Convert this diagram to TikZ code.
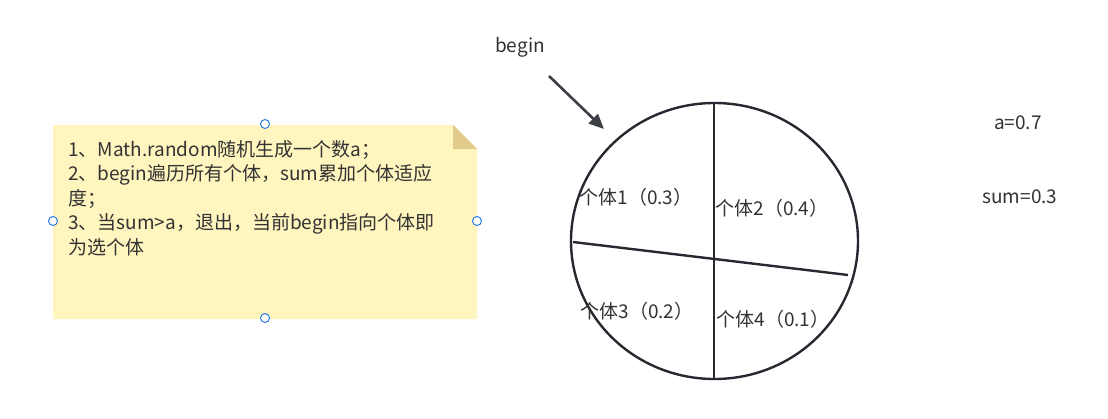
\documentclass[tikz,border=0pt]{standalone}
\usepackage{fontspec}
\setmainfont{Noto Sans CJK SC}
\usetikzlibrary{shapes.geometric,arrows.meta}
\definecolor{txt}{HTML}{333333}
\definecolor{ink}{HTML}{262A30}
\definecolor{notefill}{HTML}{FFF5BF}
\definecolor{foldfill}{HTML}{E2CB8A}
\definecolor{handle}{HTML}{1A73E8}
\tikzset{
  lbl/.style={text=txt,font=\fontsize{19}{22}\selectfont,inner sep=0pt},
  noteline/.style={lbl,anchor=base west},
  handledot/.style={circle,draw=handle,fill=white,line width=0.9pt,minimum size=9pt,inner sep=0pt},
  divider/.style={draw=ink,line width=2.4pt},
}
\begin{document}
\begin{tikzpicture}[x=1pt,y=-1pt]
\useasboundingbox[fill=white] (0,0) rectangle (1108,418);
% note
\fill[notefill] (53,125) -- (453,125) -- (477,149) -- (477,319) -- (53,319) -- cycle;
\fill[foldfill] (453,125) -- (477,149) -- (453,149) -- cycle;
\node[noteline] (n1) at (68,156) {1、Math.random随机生成一个数a；};
\node[noteline] (n2) at (68,180.5) {2、begin遍历所有个体，sum累加个体适应};
\node[noteline] (n3) at (68,205) {度；};
\node[noteline] (n4) at (68,229.5) {3、当sum>a，退出，当前begin指向个体即};
\node[noteline] (n5) at (68,254) {为选个体};
% handles
\node[handledot] (h1) at (265,124) {};
\node[handledot] (h2) at (53,221) {};
\node[handledot] (h3) at (477,221) {};
\node[handledot] (h4) at (265,318) {};
% wheel
\node[ellipse,draw=ink,line width=2.4pt,minimum width=287pt,minimum height=276pt,inner sep=0pt] (wheel) at (714.5,241) {};
\coordinate (vt) at (714,104);
\coordinate (vb) at (714,378);
\coordinate (sl) at (573,242);
\coordinate (sr) at (848,275);
\draw[divider] (vt) -- (vb);
\draw[divider] (sl) -- (sr);
\node[lbl] (p1) at (636,197) {个体1（0.3）};
\node[lbl] (p2) at (772,208) {个体2（0.4）};
\node[lbl] (p3) at (637,311) {个体3（0.2）};
\node[lbl] (p4) at (773,319) {个体4（0.1）};
% begin arrow
\node[lbl] (begin) at (520,47) {begin};
\coordinate (astart) at (549,76);
\coordinate (aend) at (604,129);
\draw[draw=ink!90,line width=2.6pt,-{Triangle[length=15pt,width=13pt]}] (astart) -- (aend);
% right labels
\node[lbl] (a) at (1018,123) {a=0.7};
\node[lbl] (sum) at (1020,197) {sum=0.3};
\end{tikzpicture}
\end{document}
